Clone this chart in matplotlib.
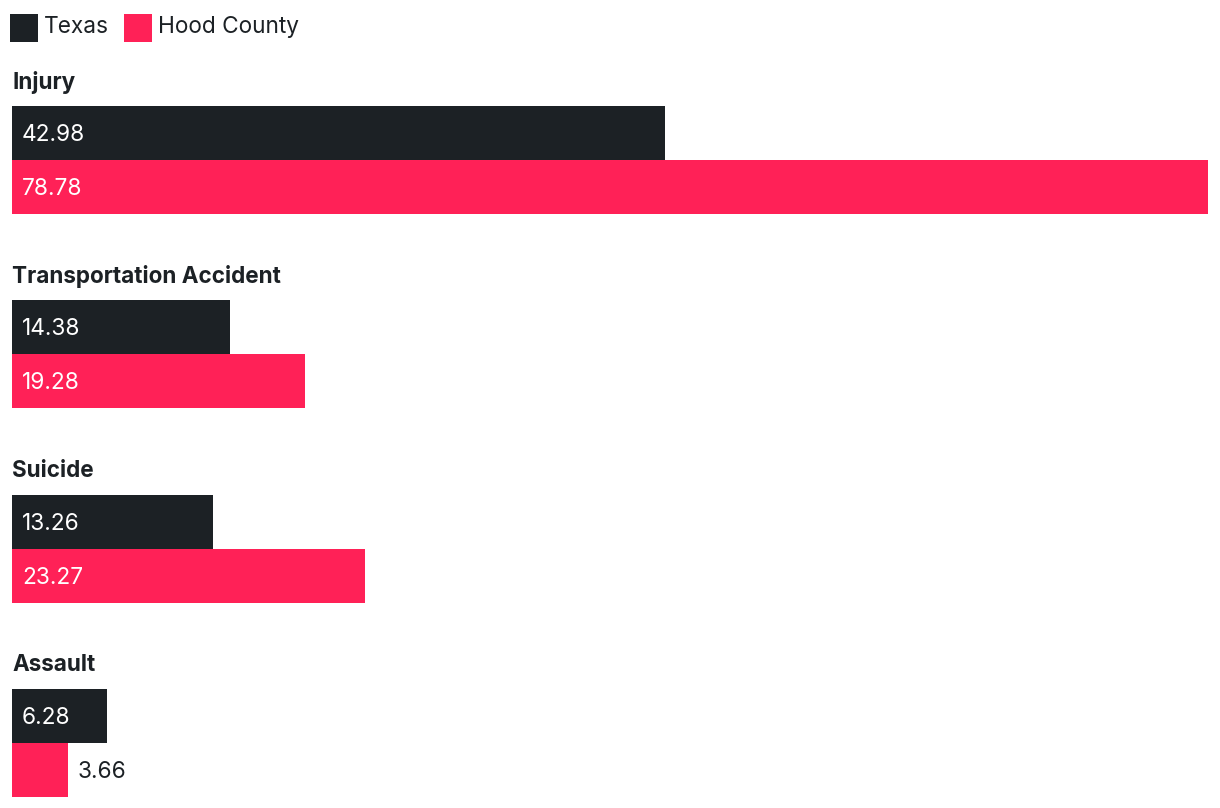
import matplotlib.pyplot as plt
from matplotlib.patches import Rectangle

categories = ["Injury", "Transportation Accident", "Suicide", "Assault"]
texas = [42.98, 14.38, 13.26, 6.28]
hood = [78.78, 19.28, 23.27, 3.66]
series_names = ["Texas", "Hood County"]

dark = "#1c2125"
pink = "#ff2157"

plt.rcParams["font.family"] = ["Inter", "DejaVu Sans"]

W, H = 1220, 808
fig = plt.figure(figsize=(W / 100, H / 100), dpi=100)

# bars axes: x from 12px to 1208px, y in "bar height" units (1 unit = 54px)
px = 54.0
left, right = 12, 1208
ax = fig.add_axes([left / W, 0, (right - left) / W, 1])
top_units = 106 / px
ax.set_ylim(H / px - top_units, -top_units)
ax.set_xlim(0, max(hood + texas))
ax.axis("off")

step = 3.6
label_kw = dict(fontsize=16.3, va="center")
for i, cat in enumerate(categories):
    y0 = i * step
    ax.annotate(cat, (0, y0), xytext=(0, 24), textcoords="offset pixels",
                fontsize=16.2, fontweight="bold", color=dark, va="center", ha="left")
    for j, (vals, col) in enumerate([(texas, dark), (hood, pink)]):
        v = vals[i]
        ax.barh(y0 + j, v, height=1, align="edge", color=col, linewidth=0)
        txt = f"{v:.2f}"
        bar_px = v / max(hood + texas) * (right - left)
        if bar_px > 80:
            ax.annotate(txt, (0, y0 + j + 0.5), xytext=(10, -2), textcoords="offset pixels",
                        color="white", ha="left", **label_kw)
        else:
            ax.annotate(txt, (v, y0 + j + 0.5), xytext=(10, -2), textcoords="offset pixels",
                        color=dark, ha="left", **label_kw)

# legend
lx = [10, 124]
for name, col, x in zip(series_names, [dark, pink], lx):
    fig.patches.append(Rectangle((x / W, 1 - 42 / H), 28 / W, 28 / H,
                                 transform=fig.transFigure, color=col, linewidth=0))
    fig.text((x + 34) / W, 1 - 27 / H, name, fontsize=16.3, color=dark,
             va="center", ha="left")

fig.savefig("out.png", dpi=100)
